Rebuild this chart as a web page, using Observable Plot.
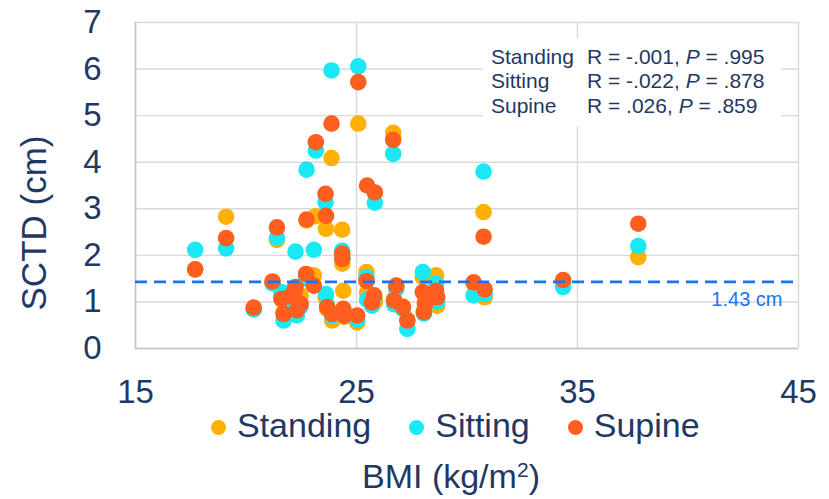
<!DOCTYPE html>
<html><head><meta charset="utf-8">
<script src="https://cdn.jsdelivr.net/npm/d3@7"></script>
<script src="https://cdn.jsdelivr.net/npm/@observablehq/plot@0.6"></script>
<style>
body{margin:0;background:#fff;font-family:"Liberation Sans",Arial,sans-serif;color:#1f3864}
#wrap{position:relative;width:829px;height:499px;overflow:hidden}
#chart{position:absolute;left:0;top:0}
#stats{position:absolute;left:483px;top:38px;width:298px;height:88px;background:#fff;padding:6.5px 0 0 8px;box-sizing:border-box;font-size:21px;line-height:24.5px;color:#1f3864}
#stats .row{display:flex;white-space:nowrap}
#stats .lab{width:96px}
#legend{position:absolute;left:211px;top:408px;display:flex;align-items:center;gap:38px;font-size:34px;line-height:34px;white-space:nowrap}
#legend .item{display:flex;align-items:center}
#legend .sw{width:15px;height:15px;border-radius:50%;margin-right:11px;position:relative;top:2px}
#xlabel{position:absolute;left:362px;top:459px;font-size:34px;line-height:34px;white-space:nowrap}
#xlabel .sup{font-size:0.62em;position:relative;top:-0.5em}
#ylabel{position:absolute;left:-66px;top:203px;width:200px;height:40px;line-height:40px;text-align:center;font-size:35px;transform:rotate(-90deg);white-space:nowrap}
</style></head><body>
<div id="wrap"><div id="chart"></div></div>
<script>
// Data (BMI shared per subject)
const bmi      = [17.7, 19.1, 20.35, 21.2, 21.4, 21.6, 21.7, 22.0, 22.2, 22.24, 22.3, 22.47, 22.74, 22.72, 23.07, 23.16, 23.6, 23.62, 23.67, 23.87, 23.9, 24.35, 24.36, 24.4, 24.45, 25.03, 25.08, 25.45, 25.48, 25.83, 25.8, 25.7, 26.66, 26.7, 26.8, 27.1, 27.3, 28.0, 28.1, 28.05, 28.6, 28.65, 30.3, 30.75, 30.8, 34.35, 37.75];
const standing = [1.70, 2.83, 0.85, 1.42, 2.33, 1.15, 0.78, 1.05, 1.28, 1.20, 0.85, 1.14, 2.75, 1.55, 1.57, 2.84, 1.10, 2.57, 0.85, 4.09, 0.60, 2.55, 1.82, 1.24, 0.68, 0.56, 4.83, 1.64, 1.20, 1.00, 1.10, 1.00, 4.63, 1.06, 1.30, 0.90, 0.62, 1.53, 1.00, 0.80, 1.57, 0.92, 1.40, 2.93, 1.10, 1.40, 1.96];
const sitting  = [2.12, 2.15, 0.84, 1.40, 2.38, 1.21, 0.60, 0.95, 1.30, 2.08, 0.71, 0.90, 3.84, 1.50, 2.12, 4.25, 3.14, 1.17, 0.92, 5.97, 0.70, 2.10, 1.95, 0.80, 0.75, 0.62, 6.06, 1.53, 1.05, 3.13, 1.10, 0.92, 4.18, 0.95, 1.28, 0.85, 0.42, 1.64, 0.95, 0.75, 1.39, 1.00, 1.14, 3.80, 1.17, 1.32, 2.20];
const supine   = [1.70, 2.37, 0.88, 1.44, 2.60, 1.06, 0.74, 1.12, 1.24, 1.32, 0.82, 0.96, 2.77, 1.60, 1.35, 4.43, 3.32, 2.85, 0.89, 4.83, 0.74, 2.04, 1.92, 0.85, 0.71, 0.71, 5.72, 1.45, 3.50, 3.35, 1.14, 0.99, 4.48, 1.03, 1.35, 0.89, 0.60, 1.21, 0.96, 0.78, 1.24, 1.10, 1.42, 2.40, 1.27, 1.47, 2.68];

const seriesNames  = ["Standing", "Sitting", "Supine"];
const seriesColors = ["#FFB000", "#19E8F5", "#FF5E1F"];
const xTicks = [15, 25, 35, 45];
const yTicks = [0, 1, 2, 3, 4, 5, 6, 7];
const threshold = 1.43;
const statR = ["-.001", "-.022", ".026"];
const statP = [".995", ".878", ".859"];

const seriesValues = [standing, sitting, supine];
const rows = [];
seriesNames.forEach((name, s) => {
  seriesValues[s].forEach((v, i) => rows.push({x: bmi[i], y: v, series: name}));
});

const ink = "#1f3864";
const chart = Plot.plot({
  width: 829, height: 410,
  marginLeft: 135, marginRight: 31, marginTop: 22, marginBottom: 62,
  x: {domain: [15, 45]},
  y: {domain: [0, 7]},
  color: {domain: seriesNames, range: seriesColors},
  style: {fontFamily: "'Liberation Sans', Arial, sans-serif", fontSize: "33px", color: ink, background: "transparent"},
  marks: [
    Plot.gridY(yTicks, {stroke: "#d9d9d9", strokeOpacity: 1, strokeWidth: 1.4}),
    Plot.gridX(xTicks, {stroke: "#d9d9d9", strokeOpacity: 1, strokeWidth: 1.4}),
    Plot.ruleX([15], {stroke: "#c4c4c4", strokeWidth: 1.6}),
    Plot.ruleY([0], {stroke: "#c4c4c4", strokeWidth: 1.6}),
    Plot.axisX(xTicks, {tickSize: 0, tickPadding: 31, label: null, fontSize: 33, fill: ink}),
    Plot.axisY(yTicks, {tickSize: 0, tickPadding: 34, label: null, fontSize: 33, fill: ink}),
    Plot.dot(rows, {x: "x", y: "y", fill: "series", r: 8.3}),
    Plot.ruleY([threshold], {stroke: "#1a73f5", strokeWidth: 2.6, strokeDasharray: "12,7"}),
    Plot.text([threshold], {y: d => d, text: d => `${d} cm`, frameAnchor: "right", textAnchor: "end", dx: -16, dy: 18, fill: "#1a73f5", fontSize: 20})
  ]
});
const wrap = document.getElementById("wrap");
document.getElementById("chart").appendChild(chart);

// statistics box
const stats = document.createElement("div");
stats.id = "stats";
seriesNames.forEach((n, i) => {
  const row = document.createElement("div");
  row.className = "row";
  row.innerHTML = `<span class="lab">${n}</span><span>R = ${statR[i]}, <i>P</i> = ${statP[i]}</span>`;
  stats.appendChild(row);
});
wrap.appendChild(stats);

// legend
const legend = document.createElement("div");
legend.id = "legend";
seriesNames.forEach((n, i) => {
  const it = document.createElement("div");
  it.className = "item";
  it.innerHTML = `<span class="sw" style="background:${seriesColors[i]}"></span><span>${n}</span>`;
  legend.appendChild(it);
});
wrap.appendChild(legend);

// axis titles
const xl = document.createElement("div");
xl.id = "xlabel";
xl.innerHTML = 'BMI (kg/m<span class="sup">2</span>)';
wrap.appendChild(xl);
const yl = document.createElement("div");
yl.id = "ylabel";
yl.textContent = "SCTD (cm)";
wrap.appendChild(yl);
</script>
</body></html>
